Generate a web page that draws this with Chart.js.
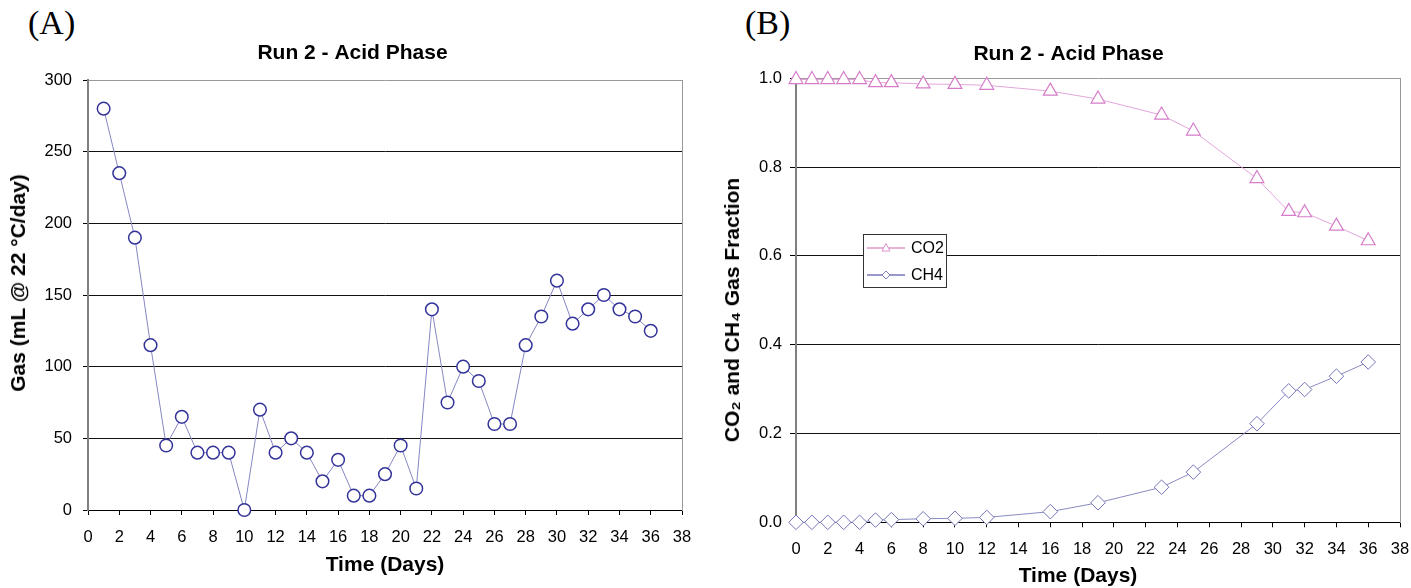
<!DOCTYPE html>
<html>
<head>
<meta charset="utf-8">
<title>Run 2 - Acid Phase</title>
<script src="https://cdn.jsdelivr.net/npm/chart.js@4.4.0/dist/chart.umd.min.js"></script>
<style>
  html, body { margin: 0; padding: 0; background: #fff; overflow: hidden; }
  body { width: 1411px; height: 588px; position: relative; }
  .panel { position: absolute; top: 0; height: 588px; }
  .tag { position: absolute; top: 6px; font: 34px/34px "Liberation Serif", "Times New Roman", serif; color: #000; }
  .axtitle { position: absolute; font: bold 21px/24px "Liberation Sans", Arial, sans-serif; color: #000; white-space: nowrap; transform: translate(-50%, -50%); }
  .axtitle.v { transform: translate(-50%, -50%) rotate(-90deg); }
</style>
</head>
<body>
<div class="tag" style="left:28px">(A)</div>
<div class="tag" style="left:745px">(B)</div>
<div class="panel" style="left:0; width:705px"><canvas id="gasChart"></canvas></div>
<div class="panel" style="left:715px; width:707px"><canvas id="fracChart"></canvas></div>
<div class="axtitle v" style="left:18px; top:283px">Gas (mL @ 22 °C/day)</div>
<div class="axtitle v" style="left:732px; top:310px">CO₂ and CH₄ Gas Fraction</div>
<div class="axtitle" style="left:1078px; top:575px">Time (Days)</div>
<script>
// panel A: daily gas production
const gasDays = [1, 2, 3, 4, 5, 6, 7, 8, 9, 10, 11, 12, 13, 14, 15, 16, 17, 18,
  19, 20, 21, 22, 23, 24, 25, 26, 27, 28, 29, 30, 31, 32, 33, 34, 35, 36];
const gasRate = [280, 235, 190, 115, 45, 65, 40, 40, 40, 0, 70, 40, 50, 40, 20, 35, 10, 10,
  25, 45, 15, 140, 75, 100, 90, 60, 60, 115, 135, 160, 130, 140, 150, 140, 135, 125];

// panel B: gas composition
const fracDays = [0, 1, 2, 3, 4, 5, 6, 8, 10, 12, 16, 19, 23, 25, 29, 31, 32, 34, 36];
const co2Frac = [0.997, 0.997, 0.997, 0.997, 0.997, 0.99, 0.99, 0.987, 0.986, 0.984, 0.971,
  0.953, 0.917, 0.881, 0.774, 0.7, 0.697, 0.667, 0.634];
const ch4Frac = [0, 0, 0, 0, 0, 0.005, 0.006, 0.008, 0.009, 0.011, 0.024, 0.044, 0.079,
  0.113, 0.222, 0.296, 0.299, 0.329, 0.361];

const xTicks = { min: 0, max: 38, step: 2 };

Chart.defaults.font.family = '"Liberation Sans", Arial, sans-serif';
Chart.defaults.color = '#000';

const toPoints = (xs, ys) => xs.map((x, i) => ({ x: x, y: ys[i] }));

const tickFont = { size: 16.5 };
const titleFont = { size: 21, weight: 'bold' };

const xScale = (height, pad, title) => ({
  type: 'linear',
  min: xTicks.min,
  max: xTicks.max,
  ticks: { stepSize: xTicks.step, font: tickFont, padding: pad, maxRotation: 0, autoSkip: false },
  grid: { drawOnChartArea: false, tickLength: 5, tickColor: '#000' },
  border: { color: '#000', width: 1 },
  title: title,
  afterFit: s => { s.height = height; }
});

const rightEdge = width => ({
  position: 'right',
  ticks: { display: false },
  grid: { display: false },
  border: { color: '#999', width: 1 },
  afterFit: s => { s.width = width; }
});

// little boxed legend placed inside the plot of panel B
const boxLegend = {
  id: 'boxLegend',
  afterDatasetsDraw(chart, args, opts) {
    const ctx = chart.ctx;
    const b = opts.box;
    ctx.save();
    ctx.fillStyle = '#fff';
    ctx.fillRect(b.x, b.y, b.w, b.h);
    ctx.strokeStyle = '#333';
    ctx.lineWidth = 1;
    ctx.strokeRect(b.x + 0.5, b.y + 0.5, b.w, b.h);
    opts.items.forEach((it, i) => {
      const y = b.y + 14 + i * 27;
      ctx.strokeStyle = it.line;
      ctx.beginPath();
      ctx.moveTo(b.x + 4, y);
      ctx.lineTo(b.x + 42, y);
      ctx.stroke();
      const cx = b.x + 23;
      ctx.fillStyle = '#fff';
      ctx.strokeStyle = it.marker;
      ctx.beginPath();
      if (it.shape === 'triangle') {
        ctx.moveTo(cx, y - 4.5);
        ctx.lineTo(cx + 4, y + 3);
        ctx.lineTo(cx - 4, y + 3);
      } else {
        ctx.moveTo(cx - 4, y);
        ctx.lineTo(cx, y - 4);
        ctx.lineTo(cx + 4, y);
        ctx.lineTo(cx, y + 4);
      }
      ctx.closePath();
      ctx.fill();
      ctx.stroke();
      ctx.fillStyle = '#000';
      ctx.font = '16px "Liberation Sans", Arial, sans-serif';
      ctx.textBaseline = 'middle';
      ctx.fillText(it.text, b.x + 48, y + 1);
    });
    ctx.restore();
  }
};

new Chart(document.getElementById('gasChart'), {
  type: 'line',
  data: {
    datasets: [{
      data: toPoints(gasDays, gasRate),
      borderColor: '#8585c4',
      borderWidth: 1,
      pointStyle: 'circle',
      pointRadius: 6.3,
      pointBorderWidth: 1.5,
      pointBorderColor: '#333399',
      pointBackgroundColor: '#fff',
      clip: false
    }]
  },
  options: {
    responsive: true,
    maintainAspectRatio: false,
    animation: false,
    events: [],
    layout: { padding: 0 },
    plugins: {
      legend: { display: false },
      tooltip: { enabled: false },
      title: {
        display: true,
        text: 'Run 2 - Acid Phase',
        font: titleFont,
        padding: { top: 40.5, bottom: 14.3 }
      }
    },
    scales: {
      x: xScale(78, 12.5, { display: true, text: 'Time (Days)', font: titleFont, padding: { top: 0, bottom: 10.5 } }),
      y: {
        min: 0,
        max: 300,
        ticks: { stepSize: 50, font: tickFont, padding: 11 },
        grid: {
          tickLength: 5,
          tickColor: '#000',
          color: c => (c.tick && c.tick.value === 300 ? '#999' : '#111')
        },
        border: { color: '#808080', width: 2 },
        afterFit: s => { s.width = 88; }
      },
      edge: rightEdge(23)
    }
  }
});

new Chart(document.getElementById('fracChart'), {
  type: 'line',
  data: {
    datasets: [{
      label: 'CO2',
      data: toPoints(fracDays, co2Frac),
      borderColor: '#e2a6da',
      borderWidth: 1,
      pointStyle: 'triangle',
      pointRadius: 8,
      pointBorderWidth: 1.2,
      pointBorderColor: '#d67cc8',
      pointBackgroundColor: '#fff',
      clip: false
    }, {
      label: 'CH4',
      data: toPoints(fracDays, ch4Frac),
      borderColor: '#8a8ac4',
      borderWidth: 1,
      pointStyle: 'rectRot',
      pointRadius: 7.3,
      pointBorderWidth: 1,
      pointBorderColor: '#7474b8',
      pointBackgroundColor: '#fff',
      clip: false
    }]
  },
  options: {
    responsive: true,
    maintainAspectRatio: false,
    animation: false,
    events: [],
    layout: { padding: 0 },
    plugins: {
      legend: { display: false },
      tooltip: { enabled: false },
      title: {
        display: true,
        text: 'Run 2 - Acid Phase',
        font: titleFont,
        padding: { top: 42, bottom: 11 }
      },
      boxLegend: {
        box: { x: 148, y: 234, w: 83, h: 53 },
        items: [
          { text: 'CO2', line: '#cc66aa', marker: '#e090d0', shape: 'triangle' },
          { text: 'CH4', line: '#333399', marker: '#8080c0', shape: 'diamond' }
        ]
      }
    },
    scales: {
      x: xScale(65.7, 12, { display: false }),
      y: {
        min: 0,
        max: 1,
        ticks: { stepSize: 0.2, font: tickFont, padding: 8, callback: v => v.toFixed(1) },
        grid: {
          tickLength: 6,
          tickColor: '#000',
          color: c => (c.tick && c.tick.value === 1 ? '#999' : '#111')
        },
        border: { color: '#808080', width: 2 },
        afterFit: s => { s.width = 81; }
      },
      edge: rightEdge(22)
    }
  },
  plugins: [boxLegend]
});
</script>
</body>
</html>
